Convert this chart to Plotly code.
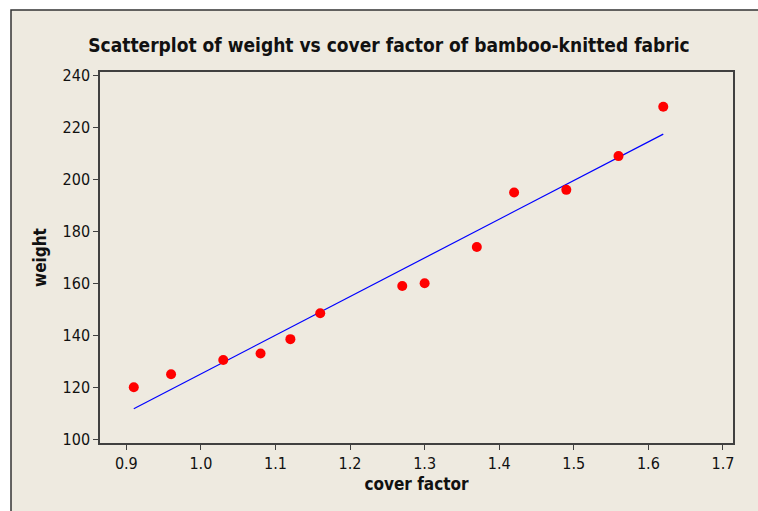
import numpy as np
import plotly.graph_objects as go

cover_factor = [0.91, 0.96, 1.03, 1.08, 1.12, 1.16, 1.27, 1.30, 1.37, 1.42, 1.49, 1.56, 1.62]
weight = [120, 125, 130.5, 133, 138.5, 148.5, 159, 160, 174, 195, 196, 209, 228]
x_ticks = [0.9, 1.0, 1.1, 1.2, 1.3, 1.4, 1.5, 1.6, 1.7]
y_ticks = [100, 120, 140, 160, 180, 200, 220, 240]

slope, intercept = np.polyfit(cover_factor, weight, 1)
fit_x = [min(cover_factor), max(cover_factor)]
fit_y = [slope * v + intercept for v in fit_x]

L, R, T, B = 100, 25, 72, 68
W, H = 758, 511
pw, ph = W - L - R, H - T - B

fig = go.Figure()
fig.add_trace(go.Scatter(x=fit_x, y=fit_y, mode="lines",
                         line=dict(color="#0000ff", width=1.2), showlegend=False))
fig.add_trace(go.Scatter(x=cover_factor, y=weight, mode="markers",
                         marker=dict(color="#ff0000", size=10, line=dict(width=0)),
                         showlegend=False))

font_family = "Tahoma, 'DejaVu Sans Condensed', 'DejaVu Sans', sans-serif"

fig.update_layout(
    width=W, height=H,
    margin=dict(l=L, r=R, t=T, b=B),
    paper_bgcolor="white",
    plot_bgcolor="white",
    font=dict(family=font_family, color="#111111", size=16),
    title=dict(text="<b>Scatterplot of weight vs cover factor of bamboo-knitted fabric</b>",
               x=389 / W, xanchor="center", y=1 - 45 / H, yanchor="middle",
               font=dict(size=19, family=font_family, color="#111111")),
    xaxis=dict(range=[0.8647, 1.7135], tickvals=x_ticks,
               ticktext=[f"{v:.1f}" for v in x_ticks],
               showgrid=False, zeroline=False, showline=True, linecolor="#404040",
               linewidth=1.5, mirror=True, ticks="outside", ticklen=5,
               tickcolor="#404040", tickwidth=1.2,
               title=dict(text="<b>cover factor</b>", font=dict(size=17), standoff=6)),
    yaxis=dict(range=[98.5, 241.4], tickvals=y_ticks,
               showgrid=False, zeroline=False, showline=True, linecolor="#404040",
               linewidth=1.5, mirror=True, ticks="outside", ticklen=5,
               tickcolor="#404040", tickwidth=1.2,
               title=dict(text="<b>weight</b>", font=dict(size=17), standoff=12)),
    shapes=[dict(type="rect", xref="paper", yref="paper", layer="below",
                 x0=(11 - L) / pw, x1=(W + 20 - L) / pw,
                 y0=(H - B - (H + 20)) / ph, y1=(H - B - 10) / ph,
                 fillcolor="#eeeae0", line=dict(color="#333333", width=1.5))],
)

fig.write_html("out.html")
